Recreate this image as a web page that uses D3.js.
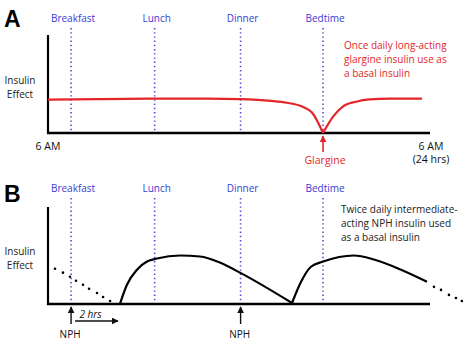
<!DOCTYPE html>
<html><head><meta charset="utf-8">
<script src="https://cdn.jsdelivr.net/npm/d3@7"></script>
<style>
html,body{margin:0;padding:0;background:#fff;}
svg{display:block;font-family:"Open Sans",Lato,sans-serif;}
</style></head>
<body>
<script>
// ---- data (hours after 6 AM; insulin effect 0-100) ----
const mealLabels = ["Breakfast", "Lunch", "Dinner", "Bedtime"];
const mealHours = [1.45, 6.7, 12.1, 17.28];

// Panel A: glargine (left and right of the bedtime injection)
const glargineLeftHours = [0, 3, 6.7, 10, 12.1, 14, 15.0, 16.0, 16.6, 17.28];
const glargineLeftValues = [33.7, 34.2, 34.7, 34.7, 34.2, 32.5, 30.6, 26.5, 20.4, 0];
const glargineRightHours = [17.28, 17.9, 18.5, 19.35, 20.2, 21.5, 23.5];
const glargineRightValues = [0, 16.3, 26.5, 31.6, 34.0, 34.7, 34.7];

// Panel B: NPH
const nphPrevHours = [0.44, 0.94, 1.38, 1.76, 2.2, 2.58, 3.08, 3.46, 3.9];
const nphPrevValues = [36, 32, 27.8, 23.7, 19.6, 15.5, 11.3, 7.2, 3.1];
const nph1Hours = [4.52, 4.96, 5.59, 6.22, 6.85, 8.29, 9.55, 10.8, 12.06, 15.33];
const nph1Values = [0, 19.6, 35, 43.3, 46.4, 49.5, 48.5, 42.3, 32, 1];
const nph2Hours = [15.33, 15.9, 16.52, 17.28, 19.22, 20.48, 22.18, 23.81];
const nph2Values = [1, 22.7, 38, 43.3, 49.5, 45.4, 35, 22.7];
const nphNextHours = [24.25, 24.69, 25.19, 25.63, 26.0];
const nphNextValues = [17.5, 14.4, 9.3, 6.2, 3.1];
const nphDoseHours = [1.45, 12.1];
const delayHours = [1.7, 4.4];

const axisLabels = {start: "6 AM", end: ["6 AM", "(24 hrs)"], y: ["Insulin", "Effect"]};
const noteA = ["Once daily long-acting", "glargine insulin use as", "a basal insulin"];
const noteB = ["Twice daily intermediate-", "acting NPH insulin used", "as a basal insulin"];

// ---- drawing ----
const W = 474, H = 355;
const FS = 10;
const svg = d3.select("body").append("svg").attr("width", W).attr("height", H);
const defs = svg.append("defs");
function marker(id, color) {
  defs.append("marker").attr("id", id).attr("viewBox", "0 0 10 10")
    .attr("refX", 9).attr("refY", 5).attr("markerWidth", 7).attr("markerHeight", 7)
    .attr("markerUnits", "userSpaceOnUse").attr("orient", "auto")
    .append("path").attr("d", "M0,0 L10,5 L0,10 z").attr("fill", color);
}
marker("arrK", "#111");
marker("arrR", "#e5252a");

const x = d3.scaleLinear().domain([0, 24]).range([48, 430]);
const BLUE = "#3b3bd2", RED = "#e5252a";

function panel(g, y0, yTop, letter, letterY, labelY) {
  const y = d3.scaleLinear().domain([0, 100]).range([y0, y0 - (y0 - yTop) / 0.99]);
  // meal lines
  mealHours.forEach((h, i) => {
    g.append("line").attr("x1", x(h)).attr("x2", x(h)).attr("y1", labelY + 6).attr("y2", y0)
      .attr("stroke", "#5050dc").attr("stroke-width", 1.6).attr("stroke-dasharray", "1.4,2.8");
    g.append("text").attr("x", x(h) + 2).attr("y", labelY).attr("text-anchor", "middle")
      .attr("fill", BLUE).attr("font-size", FS).text(mealLabels[i]);
  });
  // axes
  g.append("line").attr("x1", x(0)).attr("x2", x(0)).attr("y1", yTop).attr("y2", y0 + 1)
    .attr("stroke", "#000").attr("stroke-width", 2.2);
  g.append("line").attr("x1", x(0) - 1).attr("x2", x(24)).attr("y1", y0).attr("y2", y0)
    .attr("stroke", "#000").attr("stroke-width", 2.4);
  // letter
  g.append("text").attr("x", 4).attr("y", letterY).attr("font-family", "Liberation Sans, Arial, sans-serif")
    .attr("font-weight", "bold").attr("font-size", 23).text(letter);
  // y label
  axisLabels.y.forEach((t, i) => g.append("text").attr("x", 20).attr("y", y0 - 49 + i * 14)
    .attr("text-anchor", "middle").attr("font-size", FS).attr("fill", "#222").text(t));
  return y;
}

// Panel A
const gA = svg.append("g");
const yA = panel(gA, 133, 35, "A", 27, 22);
const lineA = d3.line().x((d) => x(d[0])).y((d) => yA(d[1])).curve(d3.curveMonotoneX);
[[glargineLeftHours, glargineLeftValues], [glargineRightHours, glargineRightValues]].forEach(([hs, vs]) => {
  gA.append("path").attr("d", lineA(hs.map((h, i) => [h, vs[i]])))
    .attr("fill", "none").attr("stroke", RED).attr("stroke-width", 2.2);
});
gA.append("line").attr("x1", x(mealHours[3])).attr("x2", x(mealHours[3])).attr("y1", 152).attr("y2", 136)
  .attr("stroke", RED).attr("stroke-width", 1.6).attr("marker-end", "url(#arrR)");
gA.append("text").attr("x", x(mealHours[3]) + 2).attr("y", 164).attr("text-anchor", "middle")
  .attr("fill", RED).attr("font-size", 10.5).text("Glargine");
gA.append("text").attr("x", x(0)).attr("y", 150).attr("text-anchor", "middle")
  .attr("font-size", 10.5).attr("fill", "#111").text(axisLabels.start);
axisLabels.end.forEach((t, i) => gA.append("text").attr("x", x(24) + 1).attr("y", 150 + i * 13)
  .attr("text-anchor", "middle").attr("font-size", 10.5).attr("fill", "#111").text(t));
noteA.forEach((t, i) => gA.append("text").attr("x", 344).attr("y", 49 + i * 14)
  .attr("fill", RED).attr("font-size", FS).text(t));

// Panel B
const gB = svg.append("g");
const yB = panel(gB, 304, 207, "B", 202, 192);
const lineB = d3.line().x((d) => x(d[0])).y((d) => yB(d[1])).curve(d3.curveMonotoneX);
[[nph1Hours, nph1Values], [nph2Hours, nph2Values]].forEach(([hs, vs]) => {
  gB.append("path").attr("d", lineB(hs.map((h, i) => [h, vs[i]])))
    .attr("fill", "none").attr("stroke", "#000").attr("stroke-width", 2.2);
});
[[nphPrevHours, nphPrevValues], [nphNextHours, nphNextValues]].forEach(([hs, vs]) => {
  gB.selectAll(null).data(hs.map((h, i) => [h, vs[i]])).enter().append("circle")
    .attr("cx", (d) => x(d[0])).attr("cy", (d) => yB(d[1])).attr("r", 1.3).attr("fill", "#000");
});
nphDoseHours.forEach((h) => {
  gB.append("line").attr("x1", x(h)).attr("x2", x(h)).attr("y1", 324).attr("y2", 307)
    .attr("stroke", "#111").attr("stroke-width", 1.4).attr("marker-end", "url(#arrK)");
  gB.append("text").attr("x", x(h) - 1).attr("y", 338).attr("text-anchor", "middle")
    .attr("font-size", FS).attr("fill", "#111").text("NPH");
});
gB.append("line").attr("x1", x(delayHours[0])).attr("x2", x(delayHours[1])).attr("y1", 321).attr("y2", 321)
  .attr("stroke", "#111").attr("stroke-width", 1.4).attr("marker-end", "url(#arrK)");
gB.append("text").attr("x", (x(delayHours[0]) + x(delayHours[1])) / 2 - 6).attr("y", 318)
  .attr("text-anchor", "middle").attr("font-style", "italic").attr("font-size", FS).attr("fill", "#111").text("2 hrs");
noteB.forEach((t, i) => gB.append("text").attr("x", 341).attr("y", 213 + i * 14)
  .attr("fill", "#222").attr("font-size", FS).text(t));
</script>
</body></html>
